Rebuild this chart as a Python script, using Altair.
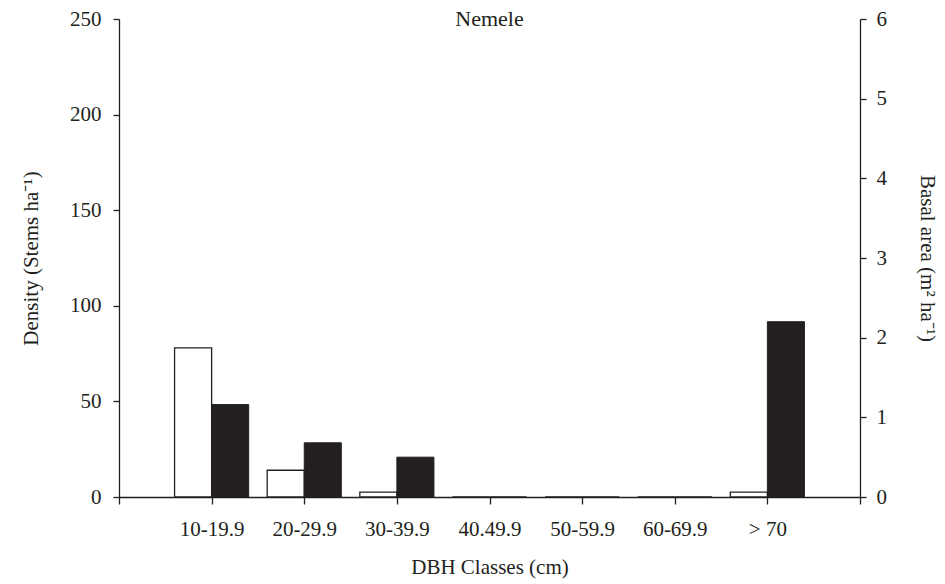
import altair as alt
import pandas as pd

# Stand structure at Nemele: stem density and basal area per DBH class
classes = ["10-19.9", "20-29.9", "30-39.9", "40.49.9", "50-59.9", "60-69.9", "> 70"]
density = [78, 14, 2.5, 0, 0, 0, 2.6]          # stems per ha
basal_area = [1.16, 0.68, 0.50, 0, 0, 0, 2.2]  # m2 per ha

SERIF = "Liberation Serif"
INK = "#231f20"
FS = 21

df = pd.DataFrame({"cls": classes, "density": density, "basal": basal_area})
df["slot"] = range(1, len(classes) + 1)

tick_labels = [""] + classes + [""]
label_expr = "[" + ", ".join("'" + t + "'" for t in tick_labels) + "][datum.value]"

x_scale = alt.Scale(domain=[0, len(classes) + 1], nice=False, zero=False)
x_axis = alt.Axis(
    values=list(range(len(classes) + 2)),
    labelExpr=label_expr,
    title="DBH Classes (cm)",
    tickSize=7,
    labelPadding=14,
    titlePadding=17,
    grid=False,
)

base = alt.Chart(df).transform_calculate(
    lo="datum.slot - 0.4", hi="datum.slot + 0.4"
)

density_bars = base.mark_bar(fill="white", stroke=INK, strokeWidth=1.3).encode(
    x=alt.X("lo:Q", scale=x_scale, axis=x_axis),
    x2="slot:Q",
    y=alt.Y(
        "density:Q",
        scale=alt.Scale(domain=[0, 250], nice=False),
        axis=alt.Axis(
            orient="left",
            values=[0, 50, 100, 150, 200, 250],
            title="Density (Stems ha⁻¹)",
            tickSize=6,
            labelPadding=12,
            titlePadding=28,
            grid=False,
        ),
    ),
    y2=alt.datum(0),
)

basal_bars = base.mark_bar(fill=INK, stroke=INK, strokeWidth=1).encode(
    x=alt.X("slot:Q", scale=x_scale, axis=x_axis),
    x2="hi:Q",
    y=alt.Y(
        "basal:Q",
        scale=alt.Scale(domain=[0, 6], nice=False),
        axis=alt.Axis(
            orient="right",
            values=[0, 1, 2, 3, 4, 5, 6],
            title="Basal area (m² ha⁻¹)",
            tickSize=6,
            labelPadding=10,
            titlePadding=30,
            grid=False,
        ),
    ),
    y2=alt.datum(0),
)

chart = (
    alt.layer(density_bars, basal_bars)
    .resolve_scale(y="independent")
    .properties(
        width=741,
        height=478,
        padding={"left": 119, "top": 19, "right": 85, "bottom": 87},
        autosize=alt.AutoSizeParams(type="none"),
        title=alt.TitleParams(
            "Nemele",
            font=SERIF,
            fontSize=22,
            fontWeight="normal",
            color=INK,
            anchor="middle",
            offset=-23,
        ),
    )
    .configure_view(stroke=None)
    .configure_axis(
        domainColor=INK,
        tickColor=INK,
        domainWidth=1.3,
        tickWidth=1.3,
        labelFont=SERIF,
        labelFontSize=FS,
        labelColor=INK,
        titleFont=SERIF,
        titleFontSize=FS,
        titleFontWeight="normal",
        titleColor=INK,
    )
)

chart.save("out.html", embed_options={"renderer": "svg", "actions": False})
